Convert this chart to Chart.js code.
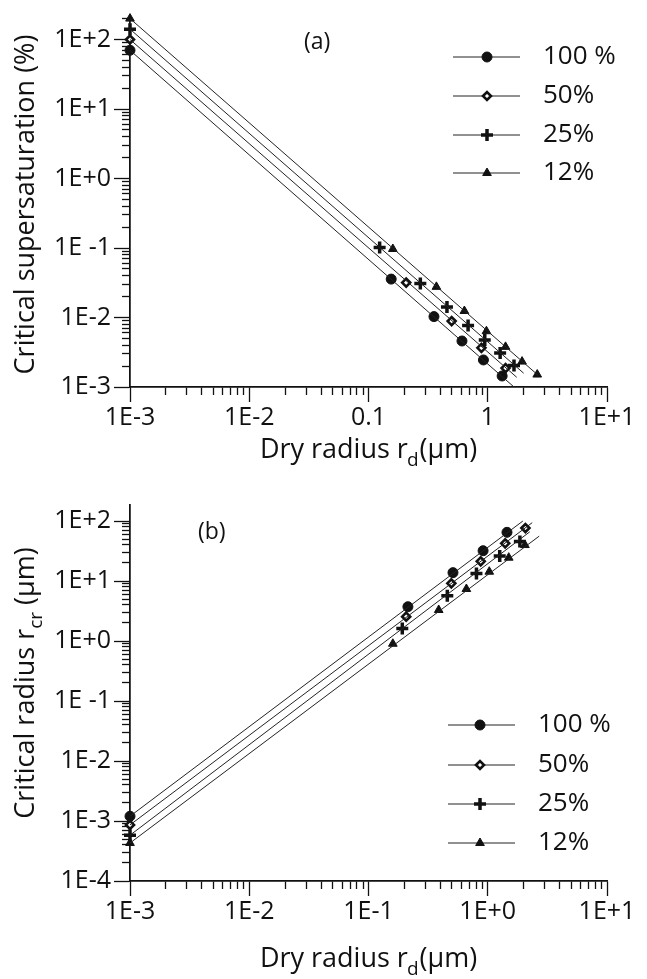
<!DOCTYPE html>
<html>
<head>
<meta charset="utf-8">
<script src="https://cdn.jsdelivr.net/npm/chart.js@4.4.0/dist/chart.umd.min.js"></script>
<style>
  body { margin: 0; background: #fff; }
  .panel { position: absolute; left: 0; width: 647px; }
</style>
</head>
<body>
<div class="panel" style="top:0;height:485px"><canvas id="graficoA"></canvas></div>
<div class="panel" style="top:485px;height:494px"><canvas id="graficoB"></canvas></div>
<script>
// series names and marker styles (same for both panels)
const etiquetas = ['100 %', '50%', '25%', '12%'];
const estilos = ['circle', 'rectRot', 'cross', 'triangle'];

// ---- panel (a): critical supersaturation (%) vs dry radius (um)
const a100X = [0.001, 0.155, 0.354, 0.608, 0.92, 1.32];
const a100Y = [70, 0.0357, 0.0103, 0.00459, 0.00245, 0.00144];
const a50X = [0.001, 0.207, 0.498, 0.885, 1.41];
const a50Y = [100, 0.0318, 0.00887, 0.00366, 0.00187];
const a25X = [0.001, 0.124, 0.272, 0.455, 0.684, 0.944, 1.27, 1.66];
const a25Y = [141, 0.102, 0.0308, 0.0142, 0.0077, 0.00474, 0.00308, 0.00204];
const a12X = [0.001, 0.160, 0.371, 0.637, 0.975, 1.41, 1.94, 2.60];
const a12Y = [200, 0.0968, 0.0276, 0.0124, 0.00635, 0.00378, 0.00232, 0.00151];
// end of each fitted line
const aFinX = [1.66, 1.75, 2.0, 2.65];
const aFinY = [0.001, 0.00138, 0.00158, 0.00147];

// ---- panel (b): critical radius (um) vs dry radius (um)
const b100X = [0.001, 0.214, 0.511, 0.914, 1.45];
const b100Y = [0.0012, 3.73, 13.8, 32.0, 64.8];
const b50X = [0.001, 0.207, 0.495, 0.873, 1.40, 2.07];
const b50Y = [0.00086, 2.55, 9.15, 21.3, 42.5, 76.4];
const b25X = [0.001, 0.192, 0.458, 0.804, 1.26, 1.86];
const b25Y = [0.00058, 1.61, 5.7, 13.4, 26.1, 45.8];
const b12X = [0.001, 0.16, 0.388, 0.662, 1.03, 1.50, 2.05];
const b12Y = [0.00043, 0.9, 3.29, 7.36, 14.3, 24.5, 39.8];
const bFinX = [1.97, 2.36, 2.25, 2.70];
const bFinY = [100, 94, 66, 56];

// ticks
const ejeXValores = [0.001, 0.01, 0.1, 1, 10];
const ejeXEtiquetasA = ['1E-3', '1E-2', '0.1', '1', '1E+1'];
const ejeXEtiquetasB = ['1E-3', '1E-2', '1E-1', '1E+0', '1E+1'];
const ejeYValoresA = [0.001, 0.01, 0.1, 1, 10, 100];
const ejeYEtiquetasA = ['1E-3', '1E-2', '1E -1', '1E+0', '1E+1', '1E+2'];
const ejeYValoresB = [0.0001, 0.001, 0.01, 0.1, 1, 10, 100];
const ejeYEtiquetasB = ['1E-4', '1E-3', '1E-2', '1E -1', '1E+0', '1E+1', '1E+2'];

const FUENTE = "'Open Sans', 'Noto Sans', sans-serif";
const NEGRO = '#111';

function ticksMenores(min, max) {
    const t = [];
    for (let d = Math.floor(Math.log10(min)); d <= Math.ceil(Math.log10(max)); d++) {
        for (let m = 2; m <= 9; m++) {
            const v = m * Math.pow(10, d);
            if (v >= min && v <= max) t.push({ value: v });
        }
    }
    return t;
}

function puntos(xs, ys) { return xs.map((x, i) => ({ x, y: ys[i] })); }

function construirDatasets(series, finX, finY) {
    const ds = [];
    series.forEach((s, i) => {
        // fitted line: from the 1E-3 point to its end
        ds.push({
            data: [{ x: s[0][0], y: s[1][0] }, { x: finX[i], y: finY[i] }],
            showLine: true, borderColor: '#222', borderWidth: 1,
            pointRadius: 0, clip: false, xAxisID: 'x', yAxisID: 'y'
        });
    });
    series.forEach((s, i) => {
        const hueco = estilos[i] === 'rectRot';
        ds.push({
            data: puntos(s[0], s[1]),
            showLine: false, pointStyle: estilos[i],
            pointRadius: estilos[i] === 'cross' ? 6 : (hueco ? 4 : 5),
            backgroundColor: hueco ? '#fff' : NEGRO,
            borderColor: NEGRO,
            borderWidth: estilos[i] === 'cross' ? 3.5 : (hueco ? 2.6 : 1),
            clip: false, xAxisID: 'x', yAxisID: 'y'
        });
    });
    return ds;
}

// Plugin: axis titles with subscripts, panel tag and in-plot legend
const pluginTextos = {
    id: 'pluginTextos',
    afterDraw(chart) {
        const cfg = chart.config.options.plugins.pluginTextos;
        if (!cfg) return;
        const { ctx, chartArea } = chart;
        ctx.save();
        ctx.fillStyle = NEGRO;
        ctx.textBaseline = 'alphabetic';

        // x title: "Dry radius r_d(μm)"
        const fT = `27px ${FUENTE}`, fS = `19px ${FUENTE}`;
        ctx.font = fT;
        const p1 = 'Dry radius r', p3 = '(μm)';
        ctx.font = fS; const wS = ctx.measureText('d').width;
        ctx.font = fT;
        const w1 = ctx.measureText(p1).width, w3 = ctx.measureText(p3).width;
        let x0 = (chartArea.left + chartArea.right) / 2 - (w1 + wS + w3) / 2;
        const yT = cfg.tituloXY;
        ctx.fillText(p1, x0, yT);
        ctx.font = fS; ctx.fillText('d', x0 + w1 - 1, yT + 8);
        ctx.font = fT; ctx.fillText(p3, x0 + w1 + wS, yT);

        // y title (rotated)
        ctx.save();
        ctx.translate(cfg.tituloYX, (chartArea.top + chartArea.bottom) / 2 + cfg.tituloYDesp);
        ctx.rotate(-Math.PI / 2);
        const partes = cfg.tituloY;
        let ancho = 0;
        partes.forEach(p => { ctx.font = p.sub ? fS : fT; ancho += ctx.measureText(p.t).width; });
        let xx = -ancho / 2;
        partes.forEach(p => {
            ctx.font = p.sub ? fS : fT;
            ctx.fillText(p.t, xx, p.sub ? 8 : 0);
            xx += ctx.measureText(p.t).width;
        });
        ctx.restore();

        // panel tag
        ctx.font = `23px ${FUENTE}`;
        ctx.textAlign = 'left';
        ctx.textBaseline = 'middle';
        ctx.fillText(cfg.panel.t, cfg.panel.x, cfg.panel.y);

        // legend
        const lg = cfg.leyenda;
        etiquetas.forEach((et, i) => {
            const y = lg.y[i];
            ctx.strokeStyle = '#222';
            ctx.lineWidth = 1;
            ctx.beginPath();
            ctx.moveTo(lg.x0, y); ctx.lineTo(lg.x1, y); ctx.stroke();
            const d = chart.data.datasets[4 + i];
            ctx.fillStyle = d.backgroundColor;
            ctx.strokeStyle = d.borderColor;
            ctx.lineWidth = d.borderWidth;
            Chart.helpers.drawPoint(ctx, { pointStyle: d.pointStyle, radius: d.pointRadius, rotation: 0, borderWidth: d.borderWidth }, lg.xm, y);
            ctx.fillStyle = NEGRO;
            ctx.font = `26px ${FUENTE}`;
            ctx.fillText(et, lg.xt, y);
        });
        ctx.restore();
    }
};
Chart.register(pluginTextos);

function escalas(yMin, yMax, yVals, yEtiq, xEtiq, altoX) {
    const fuenteTicks = { family: FUENTE, size: 25 };
    return {
        x: {
            type: 'logarithmic', position: 'bottom', min: 0.001, max: 10, weight: 1,
            grid: { drawOnChartArea: false, tickLength: 15, tickColor: NEGRO, tickWidth: 1.3 },
            border: { color: NEGRO, width: 1.5 },
            ticks: { color: NEGRO, font: fuenteTicks, padding: 1, maxRotation: 0, autoSkip: false,
                     callback: (v, i) => xEtiq[i] },
            afterBuildTicks: s => { s.ticks = ejeXValores.map(v => ({ value: v })); },
            afterFit: s => { s.height = altoX; }
        },
        xMenor: {
            type: 'logarithmic', position: 'bottom', min: 0.001, max: 10, weight: 0,
            grid: { drawOnChartArea: false, tickLength: 8, tickColor: NEGRO, tickWidth: 1.3 },
            border: { color: NEGRO, width: 1.5 },
            ticks: { display: false },
            afterBuildTicks: s => { s.ticks = ticksMenores(0.001, 10); },
            afterFit: s => { s.height = 0; }
        },
        y: {
            type: 'logarithmic', position: 'left', min: yMin, max: yMax, weight: 1,
            grid: { drawOnChartArea: false, tickLength: 16, tickColor: NEGRO, tickWidth: 1.3 },
            border: { color: NEGRO, width: 1.5 },
            ticks: { color: NEGRO, font: fuenteTicks, padding: 3, autoSkip: false,
                     callback: (v, i) => yEtiq[i] },
            afterBuildTicks: s => { s.ticks = yVals.map(v => ({ value: v })); },
            afterFit: s => { s.width = 130; }
        },
        yMenor: {
            type: 'logarithmic', position: 'left', min: yMin, max: yMax, weight: 0,
            grid: { drawOnChartArea: false, tickLength: 8, tickColor: NEGRO, tickWidth: 1.3 },
            border: { color: NEGRO, width: 1.5 },
            ticks: { display: false },
            afterBuildTicks: s => { s.ticks = ticksMenores(yMin, yMax); },
            afterFit: s => { s.width = 0; }
        }
    };
}

function crearGrafico(id, datasets, esc, padding, textos) {
    return new Chart(document.getElementById(id), {
        type: 'scatter',
        data: { datasets },
        options: {
            responsive: true, maintainAspectRatio: false, animation: false,
            layout: { padding },
            plugins: { legend: { display: false }, tooltip: { enabled: false }, pluginTextos: textos },
            scales: esc
        }
    });
}

window.onload = () => {
    crearGrafico('graficoA',
        construirDatasets([[a100X, a100Y], [a50X, a50Y], [a25X, a25Y], [a12X, a12Y]], aFinX, aFinY),
        escalas(0.001, 204, ejeYValoresA, ejeYEtiquetasA, ejeXEtiquetasA, 485 - 387),
        { top: 10, right: 40, left: 0, bottom: 0 },
        {
            tituloXY: 458, tituloYX: 34, tituloYDesp: 2,
            tituloY: [{ t: 'Critical supersaturation (%)' }],
            panel: { t: '(a)', x: 304, y: 42 },
            leyenda: { x0: 453, x1: 520, xm: 487, xt: 543, y: [57, 96, 135, 173] }
        });

    crearGrafico('graficoB',
        construirDatasets([[b100X, b100Y], [b50X, b50Y], [b25X, b25Y], [b12X, b12Y]], bFinX, bFinY),
        escalas(0.0001, 185, ejeYValoresB, ejeYEtiquetasB, ejeXEtiquetasB, 979 - 881),
        { top: 505 - 485, right: 40, left: 0, bottom: 0 },
        {
            tituloXY: 967 - 485, tituloYX: 34, tituloYDesp: -10,
            tituloY: [{ t: 'Critical radius r' }, { t: 'cr', sub: true }, { t: ' (μm)' }],
            panel: { t: '(b)', x: 198, y: 532 - 485 },
            leyenda: { x0: 448, x1: 515, xm: 480, xt: 538, y: [725 - 485, 765 - 485, 804 - 485, 843 - 485] }
        });
};
</script>
</body>
</html>
